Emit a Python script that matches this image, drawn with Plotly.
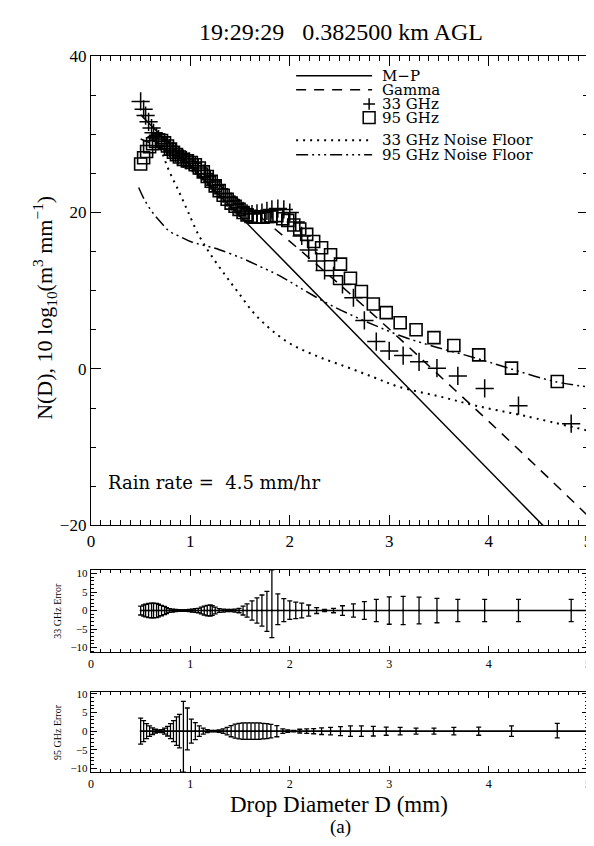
import plotly.graph_objects as go

# ---------------- data ----------------
D33 = [0.50,0.53,0.55,0.58,0.61,0.63,0.66,0.68,0.71,0.74,0.76,0.79,
       0.82,0.85,0.88,0.91,0.93,0.96,0.99,1.02,1.05,
       1.08,1.11,1.14,1.17,1.20,1.22,1.25,
       1.29,1.33,1.37,1.41,1.45,1.49,
       1.53,1.57,1.62,1.67,1.72,1.77,1.82,1.88,1.94,2.00,2.06,2.12,2.19,2.27,
       2.35,2.44,2.53,2.64,2.75,2.87,3.00,3.14,3.30,3.48,3.69,3.96,4.30,4.83]
N33 = [34.2,33.2,32.4,31.6,30.8,30.2,29.7,29.4,29.1,28.8,28.5,28.2,
       27.9,27.6,27.3,27.1,26.9,26.7,26.5,26.3,26.0,
       25.7,25.4,25.0,24.6,24.2,23.9,23.5,
       23.0,22.4,21.9,21.4,21.0,20.6,
       20.2,19.9,19.8,19.9,20.0,20.2,20.4,20.5,20.4,20.0,18.8,17.0,15.2,13.8,
       12.6,11.9,10.8,9.1,6.2,3.5,2.3,1.7,0.9,0.1,-0.9,-2.5,-4.7,-7.0]
E33_plus = [1.2,1.5,1.7,1.9,2.0,2.0,1.9,1.7,1.4,1.1,0.8,0.5,
            0.4,0.3,0.25,0.2,0.2,0.25,0.3,0.4,0.5,
            0.6,0.9,1.2,1.4,1.5,1.3,0.9,
            0.5,0.4,0.3,0.3,0.4,0.6,
            1.2,1.8,2.6,3.4,4.2,5.2,11.0,4.5,3.2,2.6,2.3,2.0,1.5,0.8,
            0.3,0.6,1.3,1.8,2.4,3.0,3.7,3.8,3.6,3.3,3.0,3.0,3.0,3.0]
E33_minus = [1.2,1.5,1.7,1.9,2.0,2.0,1.9,1.7,1.4,1.1,0.8,0.5,
             0.4,0.3,0.25,0.2,0.2,0.25,0.3,0.4,0.5,
             0.6,0.9,1.2,1.4,1.5,1.3,0.9,
             0.5,0.4,0.3,0.3,0.4,0.6,
             1.2,1.8,2.6,3.4,4.2,5.6,7.3,3.8,3.0,2.4,2.2,2.0,1.5,0.8,
             0.3,0.6,1.3,1.8,2.4,3.0,3.7,3.8,3.6,3.3,3.0,3.0,3.0,3.0]

D95 = [0.50,0.53,0.56,0.59,0.62,0.65,0.68,0.71,0.74,0.77,0.80,0.83,0.86,0.89,
       0.93,0.97,1.01,1.05,1.09,1.13,1.17,1.21,1.25,1.29,1.33,1.37,1.41,1.45,
       1.49,1.53,1.57,1.61,1.65,1.69,1.73,1.77,1.81,
       1.87,1.93,1.98,2.04,2.10,2.17,2.24,2.32,2.41,2.51,2.61,2.72,2.84,2.97,
       3.11,3.27,3.45,3.65,3.90,4.23,4.69]
N95 = [26.2,27.0,27.8,28.4,28.8,29.1,29.3,29.2,28.9,28.5,28.1,27.7,27.4,27.1,
       26.8,26.6,26.4,26.1,25.7,25.2,24.6,24.0,23.4,22.8,22.2,21.7,21.2,20.8,
       20.4,20.0,19.7,19.5,19.4,19.4,19.4,19.5,19.5,
       19.6,19.2,19.0,18.4,17.9,17.2,16.3,15.5,14.6,13.4,11.6,9.9,8.3,7.2,
       5.9,5.0,4.0,3.0,1.8,0.1,-1.6]
E95_plus = [3.5,2.8,2.0,1.4,0.9,0.5,0.3,0.4,0.8,1.3,2.0,2.8,3.8,4.5,
            8.0,6.2,3.2,2.3,1.4,0.8,0.4,0.2,0.2,0.3,0.6,1.0,1.5,1.9,
            2.1,2.2,2.2,2.2,2.2,2.2,2.1,2.0,1.8,
            1.5,0.6,0.3,0.2,0.5,0.6,0.7,0.9,1.0,1.2,1.4,1.4,1.3,1.1,
            1.0,0.8,0.8,1.0,1.1,1.4,2.1]
E95_minus = [3.5,2.8,2.0,1.4,0.9,0.5,0.3,0.4,0.8,1.3,2.0,2.8,3.8,4.5,
             11.0,5.0,3.2,2.3,1.4,0.8,0.4,0.2,0.2,0.3,0.6,1.0,1.5,1.9,
             2.1,2.2,2.2,2.2,2.2,2.2,2.1,2.0,1.8,
             1.5,0.6,0.3,0.2,0.5,0.6,0.7,0.9,1.0,1.2,1.4,1.4,1.3,1.1,
             1.0,0.8,0.8,1.0,1.1,1.4,1.8]

MP_D = [0.5, 1.0, 2.0, 3.0, 4.0, 5.0]
MP_N = [32.5, 26.0, 13.1, 0.1, -12.9, -25.9]

GAM_D = [0.5, 0.75, 1.0, 1.5, 2.0, 2.5, 3.0, 3.5, 4.0, 4.5, 5.0]
GAM_N = [29.4, 28.0, 26.1, 21.5, 16.3, 10.8, 5.1, -0.8, -6.7, -12.7, -18.8]

NF33_D = [0.66, 0.72, 0.77, 0.82, 0.87, 0.92, 0.98, 1.08, 1.20, 1.35, 1.48,
          1.67, 1.97, 2.26, 2.56, 2.85, 3.10, 3.50, 3.87, 4.36, 5.00]
NF33_N = [29.0, 27.5, 25.8, 24.4, 23.1, 21.7, 20.0, 17.2, 14.7, 12.0, 9.8,
          6.7, 3.5, 1.7, 0.3, -1.1, -2.3, -3.5, -4.7, -6.0, -7.9]

NF95_D = [0.48, 0.54, 0.62, 0.70, 0.79, 0.90, 1.00, 1.10, 1.20, 1.30, 1.51,
          1.70, 1.90, 2.10, 2.36, 2.60, 2.85, 3.12, 3.44, 3.84, 4.20, 4.66, 5.00]
NF95_N = [23.2, 21.6, 20.0, 18.8, 17.6, 16.9, 16.3, 15.9, 15.6, 15.2, 14.2,
          13.1, 11.9, 10.4, 8.5, 7.0, 5.6, 4.2, 2.9, 1.5, 0.1, -1.6, -2.3]

ERR_LINE_D = [0.5, 5.0]
ERR_LINE_V = [0.0, 0.0]

X_TICKS = [0, 1, 2, 3, 4, 5]
ERR_TICKS = [-10, -5, 0, 5, 10]
LEGEND_LABELS = ["M\u2212P", "Gamma", "33 GHz", "95 GHz", "33 GHz Noise Floor", "95 GHz Noise Floor"]
TITLE = "19:29:29\u00a0\u00a0\u00a00.382500 km AGL"
RAIN_TEXT = "Rain rate =\u00a0\u00a04.5 mm/hr"

# ---------------- figure ----------------
W, H = 594, 846
SERIF = "Liberation Serif, Times New Roman, serif"
WIDE = "DejaVu Serif, serif"
fig = go.Figure()

def px_x(p):
    return p / W

def px_y(p):
    return 1 - p / H

DASH_GAMMA = "10px,8px"
DASH_NF33 = "2px,5px"
DASH_NF95 = "12px,4px,2px,4px,2px,4px,2px,4px"

fig.add_trace(go.Scatter(x=MP_D, y=MP_N, mode="lines",
                         line=dict(color="black", width=1.5), xaxis="x", yaxis="y"))
fig.add_trace(go.Scatter(x=GAM_D, y=GAM_N, mode="lines", line_shape="spline",
                         line=dict(color="black", width=1.5, dash=DASH_GAMMA), xaxis="x", yaxis="y"))
fig.add_trace(go.Scatter(x=NF33_D, y=NF33_N, mode="lines", line_shape="spline",
                         line=dict(color="black", width=2, dash=DASH_NF33), xaxis="x", yaxis="y"))
fig.add_trace(go.Scatter(x=NF95_D, y=NF95_N, mode="lines", line_shape="spline",
                         line=dict(color="black", width=1.5, dash=DASH_NF95), xaxis="x", yaxis="y"))
fig.add_trace(go.Scatter(x=D95, y=N95, mode="markers",
                         marker=dict(symbol="square-open", size=12, color="black",
                                     line=dict(width=1.6, color="black")),
                         xaxis="x", yaxis="y"))
fig.add_trace(go.Scatter(x=D33, y=N33, mode="markers",
                         marker=dict(symbol="cross-thin-open", size=13, color="black",
                                     line=dict(width=1.5, color="black")),
                         xaxis="x", yaxis="y"))

# error panels
for D, ep, em, xa, ya in [(D33, E33_plus, E33_minus, "x2", "y2"),
                          (D95, E95_plus, E95_minus, "x3", "y3")]:
    fig.add_trace(go.Scatter(x=ERR_LINE_D, y=ERR_LINE_V, mode="lines",
                             line=dict(color="black", width=1.6), xaxis=xa, yaxis=ya))
    fig.add_trace(go.Scatter(x=D, y=[0.0] * len(D), mode="markers",
                             marker=dict(size=2, color="black"),
                             error_y=dict(type="data", symmetric=False, array=ep,
                                          arrayminus=em, color="black",
                                          thickness=1.3, width=2.5),
                             xaxis=xa, yaxis=ya))

# domains
x_dom = [px_x(80), px_x(584)]
main_dom = [px_y(520), px_y(40)]
p1_dom = [px_y(650), px_y(565.5)]
p2_dom = [px_y(772.5), px_y(690.5)]

axis_common = dict(showline=True, linecolor="black", linewidth=1.2, mirror="ticks",
                   ticks="inside", tickcolor="black", showgrid=False, zeroline=False,
                   ticklabeloverflow="allow")

def panel_x(anchor):
    return dict(domain=x_dom, anchor=anchor, range=[0, 5.0005], tickvals=X_TICKS,
                ticktext=[str(v) for v in X_TICKS], ticklen=6,
                tickwidth=1, tickfont=dict(size=12, family=SERIF), automargin=False,
                minor=dict(ticks="inside", dtick=0.1, tick0=0, ticklen=3, tickcolor="black", showgrid=False),
                **axis_common)

def panel_y(anchor, dom, rng):
    return dict(domain=dom, anchor=anchor, range=rng, tickvals=ERR_TICKS,
                ticklen=6, tickwidth=1, tickfont=dict(size=11, family=SERIF),
                minor=dict(ticks="inside", dtick=1, ticklen=3, tickcolor="black", showgrid=False),
                **axis_common)

fig.update_layout(
    width=W, height=H, margin=dict(l=0, r=0, t=0, b=0),
    paper_bgcolor="white", plot_bgcolor="white", showlegend=False,
    font=dict(family=SERIF, color="black"),
    xaxis=dict(domain=x_dom, anchor="y", range=[0, 5.0005], tickvals=X_TICKS, ticklen=10,
               tickwidth=1, tickfont=dict(size=17, family=SERIF),
               minor=dict(ticks="inside", dtick=0.1, tick0=0, ticklen=5, tickcolor="black", showgrid=False),
               **axis_common),
    yaxis=dict(domain=main_dom, anchor="x", range=[-20, 40], dtick=20, tick0=0, ticklen=10,
               tickwidth=1, tickfont=dict(size=17, family=SERIF),
               minor=dict(ticks="inside", dtick=5, ticklen=5, tickcolor="black", showgrid=False),
               **axis_common),
    xaxis2=panel_x("y2"),
    yaxis2=panel_y("x2", p1_dom, [-11.3, 11]),
    xaxis3=panel_x("y3"),
    yaxis3=panel_y("x3", p2_dom, [-11, 10.5]),
)

ann = []
ann.append(dict(text=TITLE, x=px_x(333), y=px_y(15), xref="paper", yref="paper",
                showarrow=False, font=dict(size=24, family=SERIF), xanchor="center", yanchor="middle"))
ann.append(dict(text="N(D), 10 log<sub>10</sub>(m<sup>3</sup> mm<sup>\u22121</sup>)", x=px_x(33), y=px_y(298),
                xref="paper", yref="paper", showarrow=False, textangle=-90,
                font=dict(size=22, family=SERIF), xanchor="center", yanchor="middle"))
ann.append(dict(text=RAIN_TEXT, x=px_x(95), y=px_y(476), xref="paper", yref="paper",
                showarrow=False, font=dict(size=18, family=WIDE), xanchor="left", yanchor="middle"))
ann.append(dict(text="33 GHz Error", x=px_x(46), y=px_y(607), xref="paper", yref="paper",
                showarrow=False, textangle=-90, font=dict(size=10, family=SERIF),
                xanchor="center", yanchor="middle"))
ann.append(dict(text="95 GHz Error", x=px_x(46), y=px_y(731), xref="paper", yref="paper",
                showarrow=False, textangle=-90, font=dict(size=10, family=SERIF),
                xanchor="center", yanchor="middle"))
ann.append(dict(text="Drop Diameter D (mm)", x=px_x(331), y=px_y(806), xref="paper", yref="paper",
                showarrow=False, font=dict(size=23, family=SERIF), xanchor="center", yanchor="middle"))
ann.append(dict(text="(a)", x=px_x(333), y=px_y(829), xref="paper", yref="paper",
                showarrow=False, font=dict(size=19, family=SERIF), xanchor="center", yanchor="middle"))

# manual legend
rows = [60, 74.5, 89, 103, 126, 141]
for lab, r in zip(LEGEND_LABELS, rows):
    ann.append(dict(text=lab, x=px_x(374), y=px_y(r), xref="paper", yref="paper", showarrow=False,
                    font=dict(size=15, family=WIDE), xanchor="left", yanchor="middle", borderpad=0))

shapes = []
lx0, lx1 = px_x(288), px_x(365)
shapes.append(dict(type="line", xref="paper", yref="paper", x0=lx0, x1=lx1, y0=px_y(rows[0]), y1=px_y(rows[0]),
                   line=dict(color="black", width=1.5)))
shapes.append(dict(type="line", xref="paper", yref="paper", x0=lx0, x1=lx1, y0=px_y(rows[1]), y1=px_y(rows[1]),
                   line=dict(color="black", width=1.5, dash=DASH_GAMMA)))
shapes.append(dict(type="line", xref="paper", yref="paper", x0=lx0, x1=lx1, y0=px_y(rows[4]), y1=px_y(rows[4]),
                   line=dict(color="black", width=2, dash=DASH_NF33)))
shapes.append(dict(type="line", xref="paper", yref="paper", x0=lx0, x1=lx1, y0=px_y(rows[5]), y1=px_y(rows[5]),
                   line=dict(color="black", width=1.5, dash=DASH_NF95)))
# plus symbol
cx, cy = 362, rows[2]
shapes.append(dict(type="line", xref="paper", yref="paper", x0=px_x(cx - 6), x1=px_x(cx + 6),
                   y0=px_y(cy), y1=px_y(cy), line=dict(color="black", width=1.5)))
shapes.append(dict(type="line", xref="paper", yref="paper", x0=px_x(cx), x1=px_x(cx),
                   y0=px_y(cy - 6), y1=px_y(cy + 6), line=dict(color="black", width=1.5)))
# square symbol
cx, cy = 362, rows[3]
shapes.append(dict(type="rect", xref="paper", yref="paper", x0=px_x(cx - 6), x1=px_x(cx + 6),
                   y0=px_y(cy + 6), y1=px_y(cy - 6), line=dict(color="black", width=1.5)))

fig.update_layout(annotations=ann, shapes=shapes)
fig.write_html("out.html")
